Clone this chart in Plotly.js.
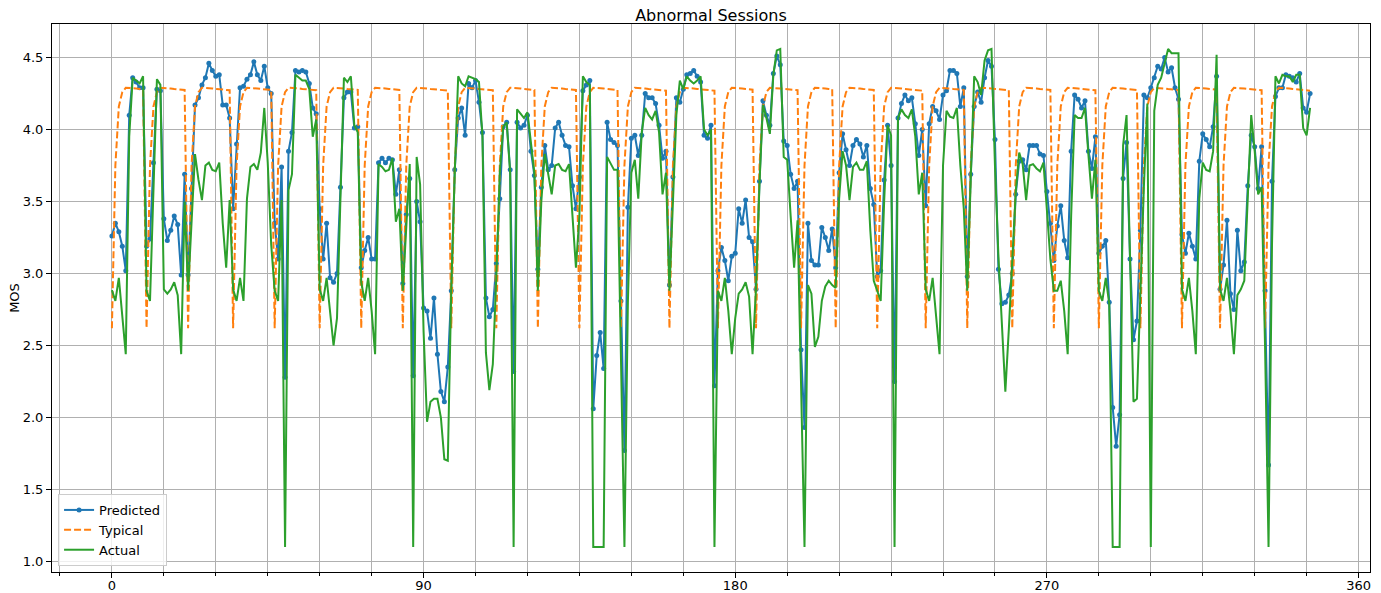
<!DOCTYPE html>
<html>
<head>
<meta charset="utf-8">
<script src="https://cdn.plot.ly/plotly-3.0.1.min.js"></script>
<style>html,body{margin:0;padding:0;background:#fff;}#chart{width:1381px;height:593px;}</style>
</head>
<body>
<div id="chart"></div>
<script>
// MOS per session step (index 0..346)
const predicted = [
3.26,3.35,3.29,3.19,3.02,4.10,4.36,4.33,4.29,4.29,
3.19,3.24,3.77,4.28,4.27,3.38,3.23,3.30,3.40,3.34,
2.99,3.69,2.99,3.59,4.17,4.22,4.31,4.36,4.46,4.41,
4.37,4.38,4.17,4.17,4.08,3.45,3.90,4.29,4.30,4.35,
4.38,4.47,4.38,4.34,4.44,4.29,4.25,3.35,3.10,3.74,
2.28,3.85,3.98,4.41,4.40,4.41,4.40,4.32,4.15,4.11,
3.45,3.10,3.35,2.97,2.94,3.00,3.60,4.22,4.26,4.26,
4.01,4.02,3.04,3.16,3.25,3.10,3.10,3.77,3.80,3.77,
3.80,3.79,3.55,3.72,2.93,3.41,3.66,2.29,3.50,3.36,
2.76,2.74,2.55,2.83,2.44,2.18,2.11,2.35,2.88,3.72,
4.08,4.15,3.96,4.32,4.29,4.34,4.19,3.98,2.83,2.70,
2.75,3.07,3.52,4.02,4.05,3.72,2.32,4.05,4.01,4.03,
4.10,3.85,3.68,3.03,3.60,3.89,3.72,3.75,4.01,4.05,
3.96,3.89,3.88,3.61,3.45,3.67,4.27,4.31,4.34,2.06,
2.43,2.59,2.34,4.05,3.93,3.91,3.89,2.81,1.77,3.46,
3.94,3.96,3.82,3.96,4.25,4.22,4.22,4.18,4.03,3.80,
3.85,2.92,3.67,4.22,4.19,4.28,4.38,4.39,4.41,4.37,
4.33,3.96,3.94,4.03,2.22,3.02,3.18,3.09,2.95,3.12,
3.14,3.45,3.35,3.51,3.25,3.22,2.89,3.64,4.20,4.10,
4.03,4.39,4.51,4.45,3.92,3.89,3.69,3.59,3.64,2.47,
1.93,3.35,3.09,3.06,3.06,3.32,3.25,3.16,3.31,3.04,
3.70,3.97,3.86,3.75,3.89,3.93,3.90,3.81,3.89,3.59,
3.48,2.98,3.02,3.65,4.03,3.75,2.25,4.08,4.18,4.24,
4.20,4.22,4.04,3.82,4.00,3.47,4.04,4.16,4.13,4.07,
4.24,4.27,4.41,4.41,4.39,4.16,4.29,2.98,3.69,4.16,
4.26,4.19,4.36,4.48,4.44,3.93,3.03,2.79,2.80,2.85,
3.00,3.55,3.78,3.79,3.72,3.89,3.89,3.89,3.83,3.82,
3.57,3.35,3.09,3.33,3.47,3.23,3.11,3.85,4.24,4.21,
4.15,4.20,3.85,3.73,3.95,3.14,3.19,3.23,2.80,2.07,
1.80,2.02,3.66,3.91,3.10,2.54,2.67,3.30,4.24,4.22,
4.29,4.36,4.44,4.42,4.50,4.40,4.43,4.29,4.21,3.27,
3.14,3.28,3.19,3.10,3.78,3.97,3.93,3.88,4.02,4.37,
2.89,3.06,3.37,2.86,2.75,3.30,3.02,3.08,3.61,3.96,
3.88,3.59,3.88,2.88,1.67,3.64,4.23,4.29,4.29,4.38,
4.37,4.36,4.33,4.39,4.15,4.12,4.25
];

const typical = [
2.62,3.75,4.16,4.26,4.29,4.29,4.288,4.285,4.282,4.28,
2.62,3.75,4.16,4.26,4.29,4.29,4.288,4.285,4.282,4.28,4.277,4.275,
2.62,3.75,4.16,4.26,4.29,4.29,4.288,4.285,4.282,4.28,4.277,4.275,4.273,
2.62,3.75,4.16,4.26,4.29,4.29,4.288,4.285,4.282,4.28,4.277,4.275,
2.62,3.75,4.16,4.26,4.29,4.29,4.288,4.285,4.282,4.28,4.277,4.275,4.273,
2.62,3.75,4.16,4.26,4.29,4.29,4.288,4.285,4.282,4.28,4.277,4.275,
2.62,3.75,4.16,4.26,4.29,4.29,4.288,4.285,4.282,4.28,4.277,4.275,
2.62,3.75,4.16,4.26,4.29,4.29,4.288,4.285,4.282,4.28,4.277,4.275,4.273,4.27,
2.62,3.75,4.16,4.26,4.29,4.29,4.288,4.285,4.282,4.28,4.277,4.275,4.273,
2.62,3.75,4.16,4.26,4.29,4.29,4.288,4.285,4.282,4.28,4.277,4.275,
2.62,3.75,4.16,4.26,4.29,4.29,4.288,4.285,4.282,4.28,4.277,4.275,
2.62,3.75,4.16,4.26,4.29,4.29,4.288,4.285,4.282,4.28,4.277,4.275,
2.62,3.75,4.16,4.26,4.29,4.29,4.288,4.285,4.282,4.28,4.277,4.275,4.273,4.27,
2.62,3.75,4.16,4.26,4.29,4.29,4.288,4.285,4.282,4.28,4.277,4.275,4.273,4.27,
2.62,3.75,4.16,4.26,4.29,4.29,4.288,4.285,4.282,4.28,4.277,
2.62,3.75,4.16,4.26,4.29,4.29,4.288,4.285,4.282,4.28,4.277,4.275,4.273,
2.62,3.75,4.16,4.26,4.29,4.29,4.288,4.285,4.282,4.28,
2.62,3.75,4.16,4.26,4.29,4.29,4.288,4.285,4.282,4.28,4.277,4.275,
2.62,3.75,4.16,4.26,4.29,4.29,4.288,4.285,4.282,4.28,4.277,4.275,4.273,4.27,
2.62,3.75,4.16,4.26,4.29,4.29,4.288,4.285,4.282,4.28,4.277,4.275,
2.62,3.75,4.16,4.26,4.29,4.29,4.288,4.285,4.282,4.28,4.277,4.275,4.273,
2.62,3.75,4.16,4.26,4.29,4.29,4.288,4.285,4.282,4.28,4.277,4.275,
2.62,3.75,4.16,4.26,4.29,4.29,4.288,4.285,4.282,4.28,4.277,4.275,4.273,
2.62,3.75,4.16,4.26,4.29,4.29,4.288,4.285,4.282,4.28,4.277,4.275,
2.62,3.75,4.16,4.26,4.29,4.29,4.288,4.285,4.282,4.28,4.277,4.275,
2.62,3.75,4.16,4.26,4.29,4.29,4.288,4.285,4.282,4.28,4.277,
2.62,3.75,4.16,4.26,4.29,4.29,4.288,4.285,4.282,4.28,4.277,4.275,4.273,
2.62,3.75,4.16,4.26,4.29,4.29,4.288,4.285,4.282,4.28,4.277,4.275,4.273,4.27
];

const actual = [
2.885,2.81,2.97,2.70,2.44,3.95,4.36,4.34,4.32,4.37,
2.88,2.81,3.60,4.35,4.31,2.89,2.86,2.89,2.94,2.85,
2.44,3.50,2.88,3.40,3.83,3.65,3.51,3.75,3.77,3.72,
3.71,3.77,3.35,3.04,3.51,2.89,2.81,2.97,2.81,3.52,
3.74,3.76,3.72,3.84,4.15,3.77,3.20,2.88,2.81,3.51,
1.10,3.58,3.69,4.38,4.36,4.34,4.34,4.28,3.95,4.07,
2.89,2.81,2.97,2.74,2.50,2.69,3.60,4.36,4.33,4.37,
4.03,3.98,2.94,2.81,2.97,2.74,2.44,3.76,3.74,3.71,
3.72,3.80,3.36,3.45,2.88,3.32,3.76,1.10,3.81,3.62,
2.60,1.97,2.11,2.13,2.13,2.00,1.71,1.70,2.90,3.70,
4.37,4.32,4.30,4.37,4.36,4.35,4.33,3.95,2.45,2.19,
2.37,2.97,3.70,4.02,4.05,3.70,1.10,4.14,4.11,4.08,
4.12,3.89,3.70,2.88,3.50,3.83,3.70,3.55,3.75,3.76,
3.72,3.71,3.76,3.37,3.04,3.40,4.37,4.33,4.31,1.10,
1.10,1.10,1.10,3.81,3.76,3.72,3.72,2.50,1.10,2.80,
3.70,3.79,3.52,3.98,4.15,4.10,4.07,4.13,3.98,3.55,
3.70,2.88,3.50,4.10,4.34,4.28,4.37,4.34,4.32,4.34,
4.37,4.00,3.96,4.00,1.10,2.88,2.81,2.97,2.74,2.44,
2.69,2.86,2.89,2.94,2.84,2.44,2.90,3.62,4.17,4.08,
3.97,4.38,4.55,4.56,3.81,3.79,3.40,3.04,3.37,2.30,
1.10,2.92,2.86,2.49,2.56,2.81,2.91,2.95,2.92,2.90,
3.52,3.85,3.75,3.51,3.74,3.77,3.72,3.72,3.78,3.30,
2.95,2.88,2.81,3.50,4.03,3.96,1.10,4.08,4.14,4.10,
4.08,4.14,3.95,3.55,3.70,2.89,2.81,2.97,2.71,2.44,
3.75,4.13,4.09,4.08,4.15,3.75,3.45,2.88,3.65,4.37,
4.33,4.24,4.48,4.55,4.56,3.75,3.12,2.61,2.18,2.61,
3.10,3.57,3.84,3.76,3.51,3.75,3.76,3.73,3.71,3.77,
3.44,3.10,2.88,2.88,2.95,2.74,2.44,3.40,4.10,4.08,
4.08,4.15,3.82,3.52,3.79,2.88,2.81,2.97,2.79,1.10,
1.10,1.10,3.89,4.10,3.12,2.11,2.13,2.90,3.60,4.18,
1.10,4.13,4.31,4.36,4.47,4.56,4.53,4.53,4.53,2.89,
2.81,2.97,2.74,2.44,3.52,3.77,3.72,3.71,3.85,4.52,
2.89,2.81,2.97,2.74,2.44,2.85,2.89,2.95,3.50,4.10,
3.85,3.55,3.60,2.49,1.10,3.20,4.37,4.32,4.38,4.37,
4.37,4.33,4.38,4.38,4.01,3.96,4.15
];

const steps = predicted.map((_, i) => i);
const seriesNames = ['Predicted', 'Typical', 'Actual'];
const xTickVals = [0, 90, 180, 270, 360];

const FONT = 'DejaVu Sans, Liberation Sans, sans-serif';

const traces = [
  {x: steps, y: predicted, name: seriesNames[0], type: 'scatter', mode: 'lines+markers',
   line: {color: '#1f77b4', width: 2}, marker: {color: '#1f77b4', size: 5}},
  {x: steps, y: typical, name: seriesNames[1], type: 'scatter', mode: 'lines',
   line: {color: '#ff7f0e', width: 2, dash: '7px,3px'}},
  {x: steps, y: actual, name: seriesNames[2], type: 'scatter', mode: 'lines',
   line: {color: '#2ca02c', width: 2}}
];

const layout = {
  width: 1381, height: 593,
  margin: {l: 52, r: 11, t: 24, b: 21, pad: 0},
  paper_bgcolor: '#ffffff', plot_bgcolor: '#ffffff',
  font: {family: FONT, size: 13, color: '#000000'},
  title: {text: 'Abnormal Sessions', font: {family: FONT, size: 16, color: '#000'},
          x: 0.5, xref: 'paper', xanchor: 'center', y: 1 - 15/593, yref: 'container', yanchor: 'middle'},
  showlegend: true,
  legend: {x: 0.0046, y: 0.011, xanchor: 'left', yanchor: 'bottom',
           bgcolor: 'rgba(255,255,255,0.8)', bordercolor: '#cccccc', borderwidth: 1,
           font: {family: FONT, size: 13, color: '#000'}, itemwidth: 30, tracegroupgap: 0},
  xaxis: {
    range: [-17.3, 363.3], tickvals: xTickVals, ticktext: xTickVals.map(String),
    ticks: 'outside', ticklen: 5, tickwidth: 1, tickcolor: '#000',
    ticklabelstandoff: -4,
    showline: true, mirror: true, linecolor: '#000', linewidth: 1,
    showgrid: true, gridcolor: '#b0b0b0', gridwidth: 1, zeroline: false,
    tickfont: {family: FONT, size: 13, color: '#000'},
    minor: {tick0: 0, dtick: 15, ticks: 'outside', ticklen: 3, tickcolor: '#000',
            showgrid: true, gridcolor: '#b0b0b0', gridwidth: 1}
  },
  yaxis: {
    range: [0.927, 4.733], tick0: 1, dtick: 0.5, tickformat: '.1f',
    ticks: 'outside', ticklen: 5, tickwidth: 1, tickcolor: '#000',
    showline: true, mirror: true, linecolor: '#000', linewidth: 1,
    showgrid: true, gridcolor: '#b0b0b0', gridwidth: 1, zeroline: false,
    tickfont: {family: FONT, size: 13, color: '#000'},
    title: {text: 'MOS', font: {family: FONT, size: 13, color: '#000'}, standoff: 0}
  }
};

Plotly.newPlot('chart', traces, layout, {displayModeBar: false, staticPlot: true});
</script>
</body>
</html>
